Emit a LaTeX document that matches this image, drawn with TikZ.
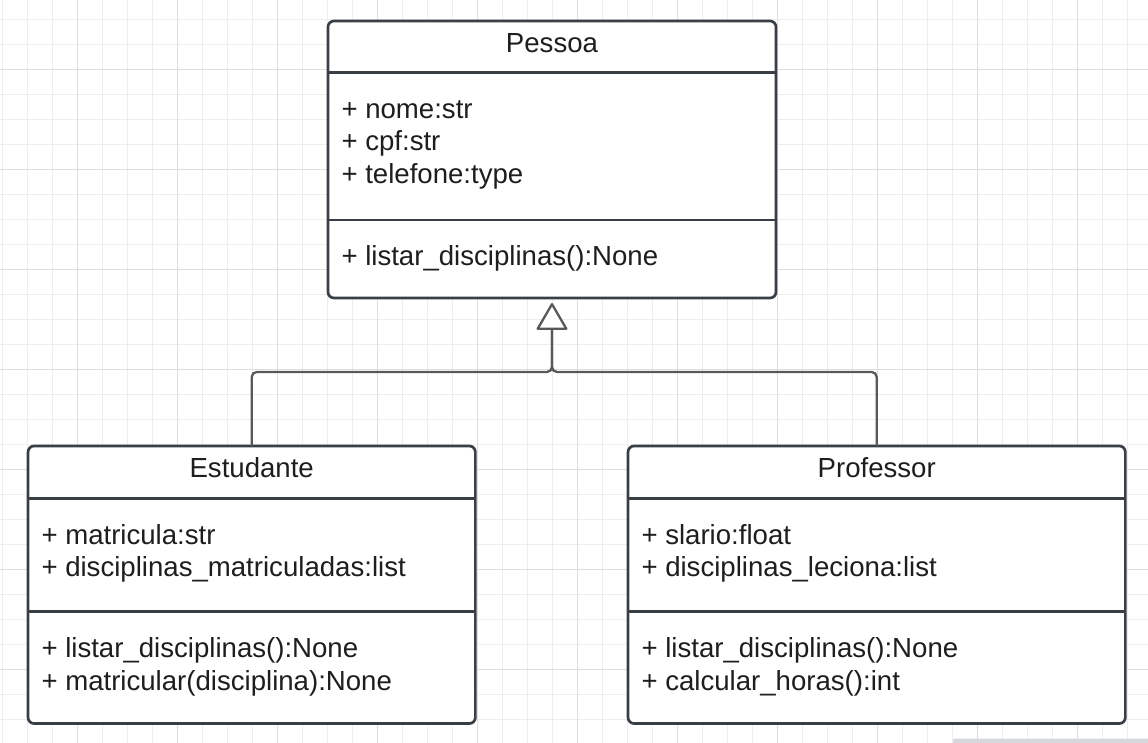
\documentclass[tikz,border=0pt]{standalone}
\usepackage{fontspec}
\setmainfont{Liberation Sans}
\usetikzlibrary{arrows.meta}
\definecolor{boxline}{HTML}{3A3F46}
\definecolor{connline}{HTML}{595959}
\definecolor{gridlight}{HTML}{EDEDED}
\definecolor{griddark}{HTML}{DEDEDE}
\definecolor{txt}{HTML}{1E1E1E}
\definecolor{scrollc}{HTML}{D6D8DB}
\begin{document}
\begin{tikzpicture}[x=1pt,y=-1pt,
  classbox/.style={draw=boxline, line width=2.7pt, fill=white, rounded corners=6pt,
    inner sep=0pt, outer sep=0pt},
  divider/.style={draw=boxline, line width=2.7pt},
  conn/.style={draw=connline, line width=2.3pt, rounded corners=5pt},
  umltext/.style={inner sep=0pt, outer sep=0pt, text=txt, font=\fontsize{27.6pt}{32pt}\selectfont},
  titletext/.style={umltext, anchor=base},
  membertext/.style={umltext, anchor=base west},
  gridl/.style={draw=gridlight, line width=1pt},
  gridd/.style={draw=griddark, line width=1pt}]
\useasboundingbox (0,0) rectangle (1148,743);
\fill[white] (0,0) rectangle (1148,743);
% grid
\foreach \gx in {2.7,27.7,...,1147.7} \draw[gridl] (\gx,0) -- (\gx,743);
\foreach \gy in {19.3,44.3,...,743} \draw[gridl] (0,\gy) -- (1148,\gy);
\foreach \gx in {77.7,177.7,...,1147.7} \draw[gridd] (\gx,0) -- (\gx,743);
\foreach \gy in {69.3,169.3,...,743} \draw[gridd] (0,\gy) -- (1148,\gy);
% scrollbar
\fill[scrollc, rounded corners=2pt] (953,738.5) rectangle (1160,752);

% boxes
\node[classbox, minimum width=448pt, minimum height=277pt] (pessoa) at (552,159.5) {};
\node[classbox, minimum width=447.3pt, minimum height=277.5pt] (estudante) at (251.7,584.75) {};
\node[classbox, minimum width=497.3pt, minimum height=277.5pt] (professor) at (876.7,584.75) {};

% dividers
\draw[divider] (pessoa.west |- 0,72.7) -- (pessoa.east |- 0,72.7);
\draw[divider] (pessoa.west |- 0,220) -- (pessoa.east |- 0,220);
\draw[divider] (estudante.west |- 0,498.3) -- (estudante.east |- 0,498.3);
\draw[divider] (estudante.west |- 0,611.7) -- (estudante.east |- 0,611.7);
\draw[divider] (professor.west |- 0,498.3) -- (professor.east |- 0,498.3);
\draw[divider] (professor.west |- 0,611.7) -- (professor.east |- 0,611.7);

% Pessoa texts
\node[titletext] (pessoaT) at (552,52.3) {Pessoa};
\node[membertext] (pA1) at (341.5,118.3) {+ nome:str};
\node[membertext] (pA2) at (341.5,150.8) {+ cpf:str};
\node[membertext] (pA3) at (341.5,183.3) {+ telefone:type};
\node[membertext] (pM1) at (341.5,265.3) {+ listar\_disciplinas():None};

% Estudante texts
\node[titletext] (estudanteT) at (251.7,477.7) {Estudante};
\node[membertext] (eA1) at (41.5,544.3) {+ matricula:str};
\node[membertext] (eA2) at (41.5,576.7) {+ disciplinas\_matriculadas:list};
\node[membertext] (eM1) at (41.5,657.7) {+ listar\_disciplinas():None};
\node[membertext] (eM2) at (41.5,690) {+ matricular(disciplina):None};

% Professor texts
\node[titletext] (professorT) at (876.7,477.7) {Professor};
\node[membertext] (fA1) at (641.5,544.3) {+ slario:float};
\node[membertext] (fA2) at (641.5,576.7) {+ disciplinas\_leciona:list};
\node[membertext] (fM1) at (641.5,657.7) {+ listar\_disciplinas():None};
\node[membertext] (fM2) at (641.5,690) {+ calcular\_horas():int};

% generalization connectors
\coordinate (j) at (pessoa.south |- 0,372);
\coordinate (tb) at (pessoa.south |- 0,331);
\draw[conn] (estudante.north) |- (j) -- (tb);
\draw[conn, shorten >=5pt, -{Triangle[open, fill=white, length=28pt, width=32pt, round]}]
  (professor.north) |- (j) -- (pessoa.south);
\end{tikzpicture}
\end{document}
